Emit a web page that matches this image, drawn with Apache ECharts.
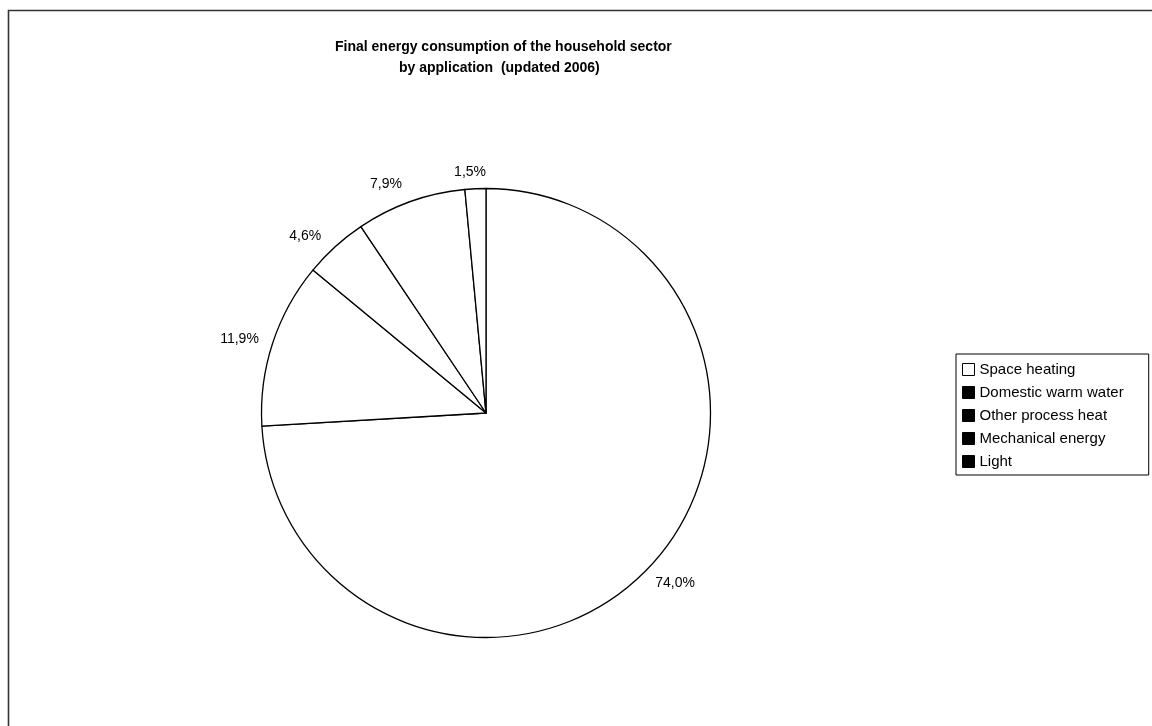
<!DOCTYPE html>
<html>
<head>
<meta charset="utf-8">
<script src="https://cdn.jsdelivr.net/npm/echarts@6/dist/echarts.min.js"></script>
<style>
  html, body { margin: 0; padding: 0; background: #fff; }
  #chart { width: 1152px; height: 726px; }
</style>
</head>
<body>
<div id="chart"></div>
<script>
// ---- data ----
const titleLine1 = 'Final energy consumption of the household sector';
const titleLine2 = 'by application  (updated 2006)';
const categories = ['Space heating', 'Domestic warm water', 'Other process heat', 'Mechanical energy', 'Light'];
const values = [74.0, 11.9, 4.6, 7.9, 1.5];
const legendSwatchColors = ['#ffffff', '#000000', '#000000', '#000000', '#000000'];

// ---- label styling (small per-label nudges in px, [dx, dy]) ----
const labelNudge = [[5, -3], [-6, 5], [-11, 11], [-15, 9], [-4, 12]];

// ---- chart ----
const FONT = '"Liberation Sans", Arial, sans-serif';
const chart = echarts.init(document.getElementById('chart'), null, { renderer: 'canvas' });

const fmt = (p) => p.value.toFixed(1).replace('.', ',') + '%';
const sliceData = categories.map((name, i) => ({ name: name, value: values[i] }));

const option = {
  backgroundColor: '#ffffff',
  animation: false,
  graphic: [
    {
      type: 'rect',
      shape: { x: 8.5, y: 10.5, width: 1300, height: 900 },
      style: { fill: 'none', stroke: '#333333', lineWidth: 1.6 },
      silent: true,
      z: 0
    }
  ],
  title: [
    {
      text: titleLine1,
      left: 335, top: 40, padding: 0,
      textStyle: { fontFamily: FONT, fontSize: 14, fontWeight: 'bold', color: '#000' }
    },
    {
      text: titleLine2,
      left: 399, top: 61, padding: 0,
      textStyle: { fontFamily: FONT, fontSize: 14, fontWeight: 'bold', color: '#000' }
    }
  ],
  legend: {
    orient: 'vertical',
    left: 956, top: 354,
    padding: [8, 25, 6, 6],
    itemGap: 8,
    itemWidth: 12, itemHeight: 12,
    borderColor: '#000', borderWidth: 1,
    backgroundColor: '#fff',
    selectedMode: false,
    icon: 'rect',
    textStyle: { fontFamily: FONT, fontSize: 15, color: '#000' },
    data: categories.map((name, i) => ({
      name: name,
      itemStyle: { color: legendSwatchColors[i], borderColor: '#000', borderWidth: 1 }
    }))
  },
  series: [
    {
      type: 'pie',
      name: 'slices',
      center: [486, 413],
      radius: 224.5,
      startAngle: 90,
      clockwise: true,
      avoidLabelOverlap: false,
      silent: true,
      itemStyle: { color: '#ffffff', borderColor: '#000000', borderWidth: 1.3 },
      label: { show: false },
      labelLine: { show: false },
      emphasis: { disabled: true },
      data: sliceData
    },
    {
      type: 'pie',
      name: 'labels',
      center: [486, 413],
      radius: [224.5, 275.5],
      startAngle: 90,
      clockwise: true,
      avoidLabelOverlap: false,
      silent: true,
      itemStyle: { color: 'rgba(0,0,0,0)', borderWidth: 0 },
      label: {
        show: true,
        position: 'inside',
        formatter: fmt,
        fontFamily: FONT, fontSize: 14, color: '#000'
      },
      labelLayout: (params) => ({
        dx: labelNudge[params.dataIndex][0],
        dy: labelNudge[params.dataIndex][1]
      }),
      labelLine: { show: false },
      emphasis: { disabled: true },
      data: sliceData
    }
  ]
};
chart.setOption(option);
</script>
</body>
</html>
